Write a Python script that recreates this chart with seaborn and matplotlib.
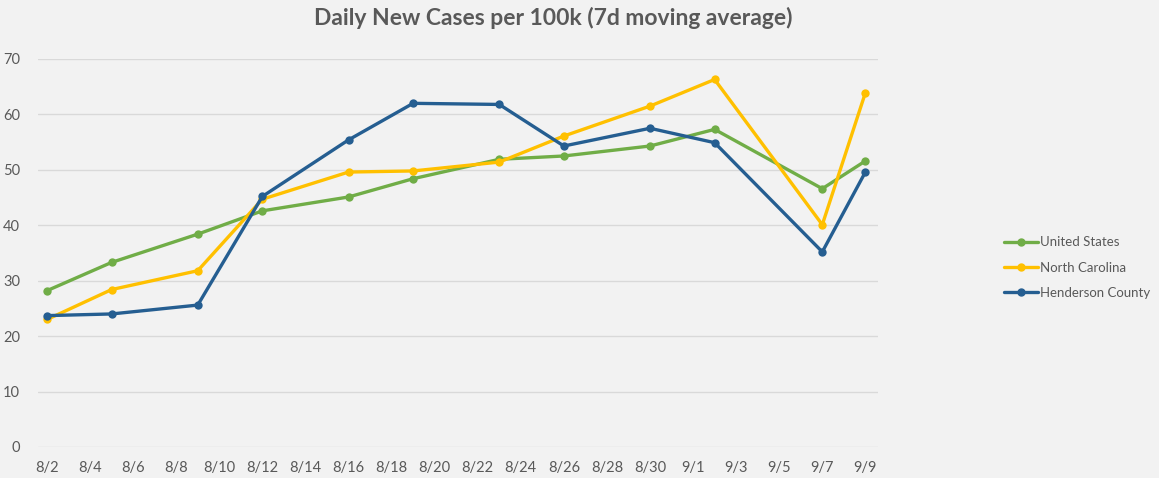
import pandas as pd
import numpy as np
import seaborn as sns
from matplotlib import pyplot as plt

# sample dates and 7-day averages
dates = ['2020-08-02', '2020-08-05', '2020-08-09', '2020-08-12', '2020-08-16', '2020-08-19',
         '2020-08-23', '2020-08-26', '2020-08-30', '2020-09-02', '2020-09-07', '2020-09-09']
us = [28.2, 33.3, 38.4, 42.6, 45.1, 48.4, 51.9, 52.5, 54.3, 57.3, 46.6, 51.6]
nc = [23.0, 28.4, 31.8, 44.7, 49.6, 49.8, 51.4, 56.1, 61.5, 66.3, 40.1, 63.9]
hc = [23.7, 24.0, 25.6, 45.2, 55.4, 62.0, 61.8, 54.3, 57.5, 54.9, 35.2, 49.6]
series = ['United States', 'North Carolina', 'Henderson County']
colors = ['#70ad47', '#ffc000', '#255e91']

df = pd.DataFrame({'date': pd.to_datetime(dates * 3),
                   'value': us + nc + hc,
                   'region': np.repeat(series, len(dates))})

sns.set_style('white')
plt.rcParams['font.family'] = ['Lato', 'DejaVu Sans']

fig = plt.figure(figsize=(11.59, 4.78), dpi=100, facecolor='#f2f2f2')
ax = fig.add_axes([0.0328, 0.0649, 0.7247, 0.8117])
ax.set_facecolor('#f2f2f2')

sns.lineplot(data=df, x='date', y='value', hue='region', hue_order=series,
             palette=colors, marker='o', markersize=6, markeredgewidth=0,
             linewidth=2.4, ax=ax, legend=False)

ax.set_ylim(0, 70)
ax.set_yticks(range(0, 71, 10))
start = pd.Timestamp('2020-08-02')
end = pd.Timestamp('2020-09-09')
ax.set_xlim(start - pd.Timedelta(hours=10), end + pd.Timedelta(hours=14))
ticks = pd.date_range(start, end, freq='2D')
ax.set_xticks(ticks)
ax.set_xticklabels([f'{t.month}/{t.day}' for t in ticks])
ax.grid(axis='y', color='#d9d9d9', linewidth=1)
ax.set_axisbelow(True)
for s in ax.spines.values():
    s.set_visible(False)
ax.tick_params(length=0, labelsize=10.5, labelcolor='#595959')
ax.tick_params(axis='x', pad=10)
ax.tick_params(axis='y', pad=13)
ax.set_xlabel('')
ax.set_ylabel('')

fig.text(0.477, 0.962, 'Daily New Cases per 100k (7d moving average)',
         ha='center', va='center', fontsize=16.5, fontweight='bold', color='#595959')

handles = [plt.Line2D([], [], color=c, linewidth=2.4, marker='o', markersize=5) for c in colors]
fig.legend(handles, series, loc='center left', bbox_to_anchor=(0.856, 0.44),
           frameon=False, fontsize=9.5, labelcolor='#595959', handlelength=2.6,
           handletextpad=0.1, labelspacing=1.0)

plt.savefig('out.png', facecolor=fig.get_facecolor())
